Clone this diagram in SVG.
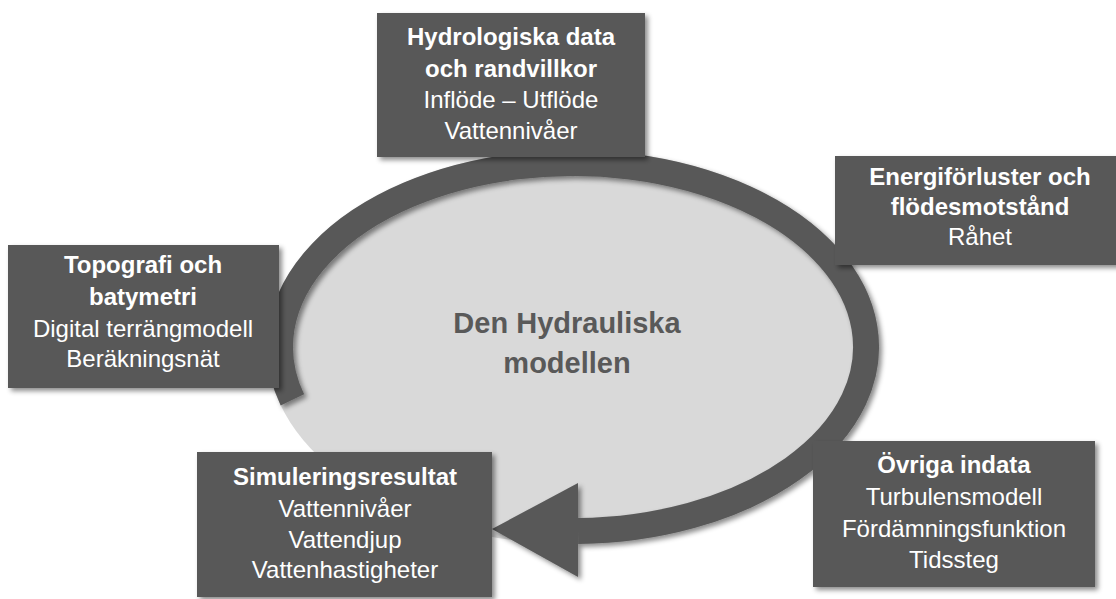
<svg xmlns="http://www.w3.org/2000/svg" width="1116" height="599" viewBox="0 0 1116 599">
<style>
.box{fill:#595959;filter:url(#sh)}
.t{font-family:"Liberation Sans",Arial,sans-serif;font-size:24px;fill:#ffffff;text-anchor:middle}
.b{font-weight:bold}
.c{font-family:"Liberation Sans",Arial,sans-serif;font-size:29px;font-weight:bold;fill:#595959;text-anchor:middle}
.ring{fill:none;stroke:#595959;stroke-width:26}
</style>
<defs>
<filter id="sh" x="-10%" y="-10%" width="125%" height="130%">
<feDropShadow dx="3" dy="3" stdDeviation="2.5" flood-color="#000" flood-opacity="0.45"/>
</filter>
</defs>
<rect width="1116" height="599" fill="#ffffff"/>
<g id="center">
<ellipse cx="573" cy="347" rx="306" ry="197" fill="#d9d9d9"/>
<text class="c" x="567" y="333">Den Hydrauliska</text>
<text class="c" x="567" y="373">modellen</text>
</g>
<g id="connectors" filter="url(#sh)">
<path class="ring" d="M 292.4 399.9 A 293 184 0 1 1 578 531"/>
<polygon points="578,483 578,577 492,529" fill="#595959"/>
</g>
<g id="hydro">
<rect class="box" x="377" y="13" width="268" height="144"/>
<text class="t b" x="511" y="45">Hydrologiska data</text>
<text class="t b" x="511" y="77">och randvillkor</text>
<text class="t" x="511" y="108">Inflöde – Utflöde</text>
<text class="t" x="511" y="139">Vattennivåer</text>
</g>
<g id="energi">
<rect class="box" x="835" y="156" width="290" height="109"/>
<text class="t b" x="980" y="185">Energiförluster och</text>
<text class="t b" x="980" y="215">flödesmotstånd</text>
<text class="t" x="980" y="245">Råhet</text>
</g>
<g id="topo">
<rect class="box" x="8" y="245" width="271" height="143"/>
<text class="t b" x="143" y="273">Topografi och</text>
<text class="t b" x="143" y="305">batymetri</text>
<text class="t" x="143" y="337">Digital terrängmodell</text>
<text class="t" x="143" y="367">Beräkningsnät</text>
</g>
<g id="sim">
<rect class="box" x="197" y="452" width="295" height="145"/>
<text class="t b" x="345" y="485">Simuleringsresultat</text>
<text class="t" x="345" y="517">Vattennivåer</text>
<text class="t" x="345" y="548">Vattendjup</text>
<text class="t" x="345" y="578">Vattenhastigheter</text>
</g>
<g id="ovriga">
<rect class="box" x="813" y="441" width="282" height="146"/>
<text class="t b" x="954" y="473">Övriga indata</text>
<text class="t" x="954" y="505">Turbulensmodell</text>
<text class="t" x="954" y="537">Fördämningsfunktion</text>
<text class="t" x="954" y="568">Tidssteg</text>
</g>
</svg>
